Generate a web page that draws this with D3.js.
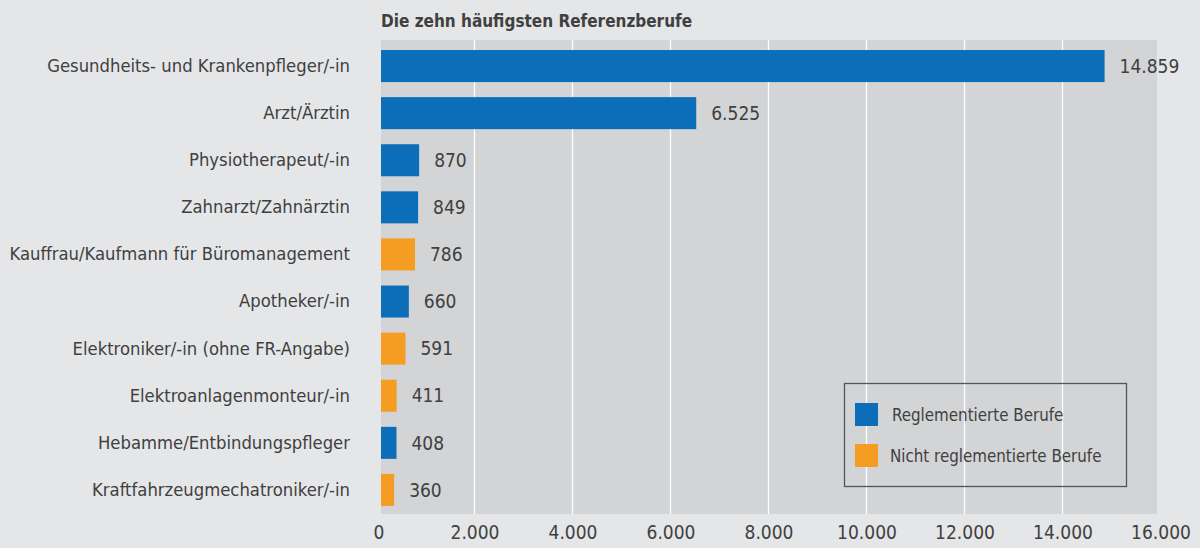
<!DOCTYPE html>
<html>
<head>
<meta charset="utf-8">
<script src="https://cdn.jsdelivr.net/npm/d3@7"></script>
<style>
  body { margin: 0; background: #e5e6e8; }
  svg { display: block; }
  text { font-family: "DejaVu Sans Condensed", "Liberation Sans Narrow", sans-serif; fill: #404040; }
</style>
</head>
<body>
<div id="chart"></div>
<script>
var berufe = [
  "Gesundheits- und Krankenpfleger/-in",
  "Arzt/Ärztin",
  "Physiotherapeut/-in",
  "Zahnarzt/Zahnärztin",
  "Kauffrau/Kaufmann für Büromanagement",
  "Apotheker/-in",
  "Elektroniker/-in (ohne FR-Angabe)",
  "Elektroanlagenmonteur/-in",
  "Hebamme/Entbindungspfleger",
  "Kraftfahrzeugmechatroniker/-in"
];
var anzahl = [14859, 6525, 870, 849, 786, 660, 591, 411, 408, 360];
var gruppe = ["R", "R", "R", "R", "N", "R", "N", "N", "R", "N"];
var gruppenNamen = ["Reglementierte Berufe", "Nicht reglementierte Berufe"];
var xTicks = [0, 2000, 4000, 6000, 8000, 10000, 12000, 14000, 16000];

var width = 1200, height = 548;
var svg = d3.select("#chart").append("svg")
    .attr("width", width)
    .attr("height", height)

var de = d3.formatLocale({decimal: ",", thousands: ".", grouping: [3], currency: ["", " €"]});
var fmt = de.format(",d");

var xScale = d3.scaleLinear().domain([0, 16000]).range([376.5, 1160.5]);
var yScale = d3.scaleBand().domain(berufe).range([42.5, 513.5]).paddingInner(0.32).paddingOuter(0.16);
var color = d3.scaleOrdinal().domain(["R", "N"]).range(["#0c6eb9", "#f59d23"]);

// plot background
svg.append("rect")
    .attr("x", 381).attr("y", 40)
    .attr("width", 1157 - 381).attr("height", 514 - 40)
    .attr("fill", "#d3d4d6")

// gridlines
svg.append("g")
    .selectAll("line")
    .data(xTicks.filter(function(d) { return d > 0 && d < 16000; }))
    .join("line")
    .attr("x1", function(d) { return xScale(d); })
    .attr("x2", function(d) { return xScale(d); })
    .attr("y1", 40).attr("y2", 514)
    .attr("stroke", "#ffffff")
    .attr("stroke-width", 1.3)

// title
svg.append("text")
    .attr("x", 381)
    .attr("y", 27)
    .attr("font-size", "17px")
    .attr("font-weight", "bold")
    .text("Die zehn häufigsten Referenzberufe")

// bars
svg.append("g")
    .selectAll("rect")
    .data(anzahl)
    .join("rect")
    .attr("x", 381)
    .attr("y", function(d, i) { return yScale(berufe[i]); })
    .attr("width", function(d) { return xScale(d) - 381; })
    .attr("height", yScale.bandwidth())
    .attr("fill", function(d, i) { return color(gruppe[i]); })

// value labels
svg.append("g")
    .selectAll("text")
    .data(anzahl)
    .join("text")
    .attr("x", function(d) { return xScale(d) + 15; })
    .attr("y", function(d, i) { return yScale(berufe[i]) + yScale.bandwidth() / 2; })
    .attr("dy", "0.35em")
    .attr("font-size", "19px")
    .text(function(d) { return fmt(d); })

// y axis labels
var yAxis = svg.append("g")
    .attr("transform", "translate(350,0)")
    .call(d3.axisLeft(yScale).tickSize(0).tickPadding(0))
yAxis.select(".domain").remove();
yAxis.selectAll("text")
    .attr("font-size", "18.3px")
    .attr("fill", "#404040")

// x axis labels
var xAxis = svg.append("g")
    .attr("transform", "translate(0,525)")
    .call(d3.axisBottom(xScale).tickValues(xTicks).tickSize(0).tickPadding(0)
        .tickFormat(function(d) { return fmt(d); }))
xAxis.select(".domain").remove();
xAxis.selectAll("text")
    .attr("font-size", "19px")
    .attr("fill", "#404040")
    .attr("dy", "0.71em")
xAxis.select(".tick text").attr("dx", 2)

// legend
var legend = svg.append("g");
legend.append("rect")
    .attr("x", 844.5).attr("y", 383.5)
    .attr("width", 282).attr("height", 103)
    .attr("fill", "none")
    .attr("stroke", "#555555")
    .attr("stroke-width", 1.3)

var items = legend.selectAll("g.item")
    .data(["R", "N"])
    .join("g")
    .attr("class", "item")
    .attr("transform", function(d, i) { return "translate(855," + (403 + i * 41) + ")"; })
items.append("text")
    .attr("x", function(d, i) { return i === 0 ? 37 : 35; })
    .attr("y", 12)
    .attr("dy", "0.35em")
    .attr("font-size", "16.8px")
    .text(function(d, i) { return gruppenNamen[i]; })
items.append("rect")
    .attr("width", 23).attr("height", 23)
    .attr("fill", function(d) { return color(d); })
</script>
</body>
</html>
